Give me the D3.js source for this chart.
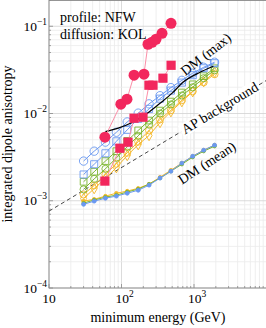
<!DOCTYPE html>
<html lang="en">
<head>
  <meta charset="UTF-8">
  <title>dipole anisotropy</title>
  <script src="https://cdn.jsdelivr.net/npm/d3@7"></script>
  <style>
    body { margin: 0; background: #fff; }
  </style>
</head>
<body>
  <svg width="266" height="328" font-family="'Liberation Serif', 'Times New Roman', Times, serif"></svg>

  <script>
    // energies of the scanned curves (GeV)
    var energies = [30, 42, 60, 85, 120, 170, 240, 340, 480, 680, 960, 1360, 1920];

    // upper bundle (open markers)
    var blueCircles  = [0.00285, 0.00370, 0.00470, 0.00610, 0.00800, 0.0101, 0.0129, 0.0160, 0.0198, 0.0240, 0.0290, 0.0339, 0.0387];
    var blueSquares  = [0.00200, 0.00262, 0.00350, 0.00480, 0.00650, 0.00870, 0.0113, 0.0148, 0.0183, 0.0226, 0.0275, 0.0330, 0.0377];
    var greenSquares = [0.00165, 0.00215, 0.00285, 0.00370, 0.00485, 0.00640, 0.00830, 0.0108, 0.0137, 0.0174, 0.0216, 0.0268, 0.0330];
    var greenCircles = [0.00135, 0.00178, 0.00232, 0.00310, 0.00415, 0.00555, 0.00745, 0.0100, 0.0127, 0.0161, 0.0200, 0.0254, 0.0313];
    var yellowCircles  = [0.00118, 0.00150, 0.00200, 0.00265, 0.00355, 0.00475, 0.00640, 0.00855, 0.0109, 0.0142, 0.0180, 0.0228, 0.0282];
    var yellowDiamonds = [0.00106, 0.00138, 0.00180, 0.00240, 0.00330, 0.00440, 0.00560, 0.00790, 0.0105, 0.0137, 0.0178, 0.0232, 0.0297];

    // DM (mean) bundle (small filled markers)
    var blueMean   = [0.00091, 0.00099, 0.00107, 0.00113, 0.00122, 0.00132, 0.00151, 0.00182, 0.00218, 0.00270, 0.00324, 0.00380, 0.00434];
    var greenMean  = [0.00094, 0.00102, 0.00110, 0.00116, 0.00126, 0.00136, 0.00155, 0.00182, 0.00218, 0.00262, 0.00316, 0.00370, 0.00422];
    var yellowMean = [0.00099, 0.00104, 0.00113, 0.00122, 0.00129, 0.00139, 0.00155, 0.00186, 0.00224, 0.00270, 0.00324, 0.00380, 0.00434];

    // DM (max) curve
    var maxE = [60, 90, 140, 210, 340, 500, 705, 1210, 1850];
    var maxV = [0.0062, 0.0068, 0.0079, 0.0096, 0.0131, 0.0171, 0.0228, 0.0297, 0.0348];

    // pink data points
    var pinkCircE = [59, 98, 119, 149, 204, 232, 264, 299, 362, 482];
    var pinkCircV = [0.00535, 0.0128, 0.0146, 0.0275, 0.0282, 0.0622, 0.0656, 0.071, 0.083, 0.108];
    var pinkSqE = [59, 95, 123, 149, 198, 239, 272, 373, 483];
    var pinkSqV = [0.00168, 0.0040, 0.00469, 0.00883, 0.00907, 0.0211, 0.0211, 0.0254, 0.0357];

    // AP background power law, end points
    var apE = [10, 10000];
    var apV = [0.00076, 0.024];

    var xTicks = [10, 100, 1000];
    var yTicks = [1e-4, 1e-3, 1e-2, 1e-1];

    var svg = d3.select("svg");
    var x = d3.scaleLog().domain([10, 1e4]).range([49, 266.5]);
    var y = d3.scaleLog().domain([1e-4, 0.2]).range([288, 0]);

    var blue = "#6a98f0", green = "#7cb530", yellow = "#f5b82a", pink = "#f2275d";

    // grid
    var grid = svg.append("g");
    var minorX = [], minorY = [];
    [10, 100, 1000].forEach(function(d) { for (var k = 1; k < 10; k++) minorX.push(k * d); });
    [1e-4, 1e-3, 1e-2, 1e-1].forEach(function(d) { for (var k = 1; k < 10; k++) if (k * d <= 0.2) minorY.push(k * d); });
    grid.selectAll(".vx").data(minorX).enter().append("line")
        .attr("x1", d => x(d)).attr("x2", d => x(d)).attr("y1", 0).attr("y2", 288)
        .attr("stroke", d => xTicks.indexOf(d) >= 0 ? "#d2d2d2" : "#ebebeb").attr("stroke-width", 0.8);
    grid.selectAll(".hy").data(minorY).enter().append("line")
        .attr("x1", 49).attr("x2", 266).attr("y1", d => y(d)).attr("y2", d => y(d))
        .attr("stroke", d => yTicks.indexOf(d) >= 0 ? "#d2d2d2" : "#ebebeb").attr("stroke-width", 0.8);

    // frame and ticks
    svg.append("rect").attr("x", 49).attr("y", 0.5).attr("width", 220).attr("height", 287.5)
        .attr("fill", "none").attr("stroke", "#8a8a8a").attr("stroke-width", 0.9);
    svg.append("g").selectAll("line").data(minorX).enter().append("line")
        .attr("x1", d => x(d)).attr("x2", d => x(d)).attr("y1", 288)
        .attr("y2", d => xTicks.indexOf(d) >= 0 ? 284 : 286).attr("stroke", "#8a8a8a").attr("stroke-width", 0.8);
    svg.append("g").selectAll("line").data(minorY).enter().append("line")
        .attr("y1", d => y(d)).attr("y2", d => y(d)).attr("x1", 49)
        .attr("x2", d => yTicks.indexOf(d) >= 0 ? 53 : 51).attr("stroke", "#8a8a8a").attr("stroke-width", 0.8);

    // tick labels
    var xl = svg.append("g").selectAll("text").data(xTicks).enter().append("text")
        .attr("x", d => x(d) + (d > 10 ? 3 : 0)).attr("y", 303).attr("text-anchor", "middle").attr("font-size", 13.5);
    xl.append("tspan").text("10");
    xl.filter(d => d > 10).append("tspan").attr("dy", -6).attr("font-size", 9.5).text(d => Math.round(Math.log10(d)));

    var yl = svg.append("g").selectAll("text").data(yTicks).enter().append("text")
        .attr("x", 47).attr("y", d => y(d) + 4.5).attr("text-anchor", "end").attr("font-size", 13.5);
    yl.append("tspan").text("10");
    yl.append("tspan").attr("dy", -6).attr("font-size", 9.5).text(d => "\u2212" + Math.round(-Math.log10(d)));

    // axis labels
    svg.append("text").attr("x", 158).attr("y", 322).attr("text-anchor", "middle")
        .attr("font-size", 14).text("minimum energy (GeV)");
    svg.append("text").attr("transform", "translate(12,144) rotate(-90)").attr("text-anchor", "middle")
        .attr("font-size", 14).text("integrated dipole anisotropy");

    var plot = svg.append("g");
    var line = d3.line().x(d => x(d[0])).y(d => y(d[1]));

    // AP background
    plot.append("path").datum(d3.zip(apE, apV)).attr("d", line)
        .attr("fill", "none").attr("stroke", "#333").attr("stroke-width", 0.9).attr("stroke-dasharray", "4,3");

    function series(vals, color, shape, size, filled) {
      var pts = d3.zip(energies, vals);
      plot.append("path").datum(pts).attr("d", line)
          .attr("fill", "none").attr("stroke", color).attr("stroke-width", 1);
      plot.append("g").selectAll("path").data(pts).enter().append("path")
          .attr("transform", d => "translate(" + x(d[0]) + "," + y(d[1]) + ")")
          .attr("d", d3.symbol().type(shape).size(size))
          .attr("fill", filled ? color : "none").attr("stroke", color).attr("stroke-width", 0.9);
    }

    series(yellowDiamonds, yellow, d3.symbolDiamond, 32, false);
    series(yellowCircles, yellow, d3.symbolCircle, 40, false);
    series(greenCircles, green, d3.symbolCircle, 40, false);
    series(greenSquares, green, d3.symbolSquare, 45, false);
    series(blueSquares, blue, d3.symbolSquare, 50, false);
    series(blueCircles, blue, d3.symbolCircle, 55, false);

    series(yellowMean, yellow, d3.symbolCircle, 10, true);
    series(greenMean, green, d3.symbolCircle, 9, true);
    series(blueMean, blue, d3.symbolCircle, 12, true);

    // DM (max)
    plot.append("path").datum(d3.zip(maxE, maxV)).attr("d", line.curve(d3.curveMonotoneX))
        .attr("fill", "none").attr("stroke", "#000").attr("stroke-width", 1.2);
    line.curve(d3.curveLinear);

    // pink points
    function pinkSeries(es, vs, shape, size) {
      var pts = d3.zip(es, vs);
      plot.append("path").datum(pts).attr("d", line)
          .attr("fill", "none").attr("stroke", "#fb8fa8").attr("stroke-width", 1);
      plot.append("g").selectAll("path").data(pts).enter().append("path")
          .attr("transform", d => "translate(" + x(d[0]) + "," + y(d[1]) + ")")
          .attr("d", d3.symbol().type(shape).size(size)).attr("fill", pink);
    }
    pinkSeries(pinkSqE, pinkSqV, d3.symbolSquare, 85);
    pinkSeries(pinkCircE, pinkCircV, d3.symbolCircle, 95);

    // annotations
    function label(txt, e, v, angle, box) {
      var g = svg.append("g").attr("transform", "translate(" + x(e) + "," + y(v) + ") rotate(" + angle + ")");
      var t = g.append("text").attr("y", 4.5).attr("text-anchor", "middle").attr("font-size", 14).text(txt);
      if (box) {
        var b = t.node().getBBox();
        g.insert("rect", "text").attr("x", b.x - 2).attr("y", b.y + 1).attr("width", b.width + 4)
            .attr("height", b.height - 2).attr("fill", "#fff");
      }
    }
    label("DM (max)", 1466, 0.0475, -38, false);
    label("AP background", 2286, 0.0115, -31, true);
    label("DM (mean)", 1510, 0.0027, -33, false);

    svg.append("text").attr("x", 60).attr("y", 22).attr("font-size", 14).text("profile: NFW");
    svg.append("text").attr("x", 60).attr("y", 39).attr("font-size", 14).text("diffusion: KOL");
  </script>
</body>
</html>
